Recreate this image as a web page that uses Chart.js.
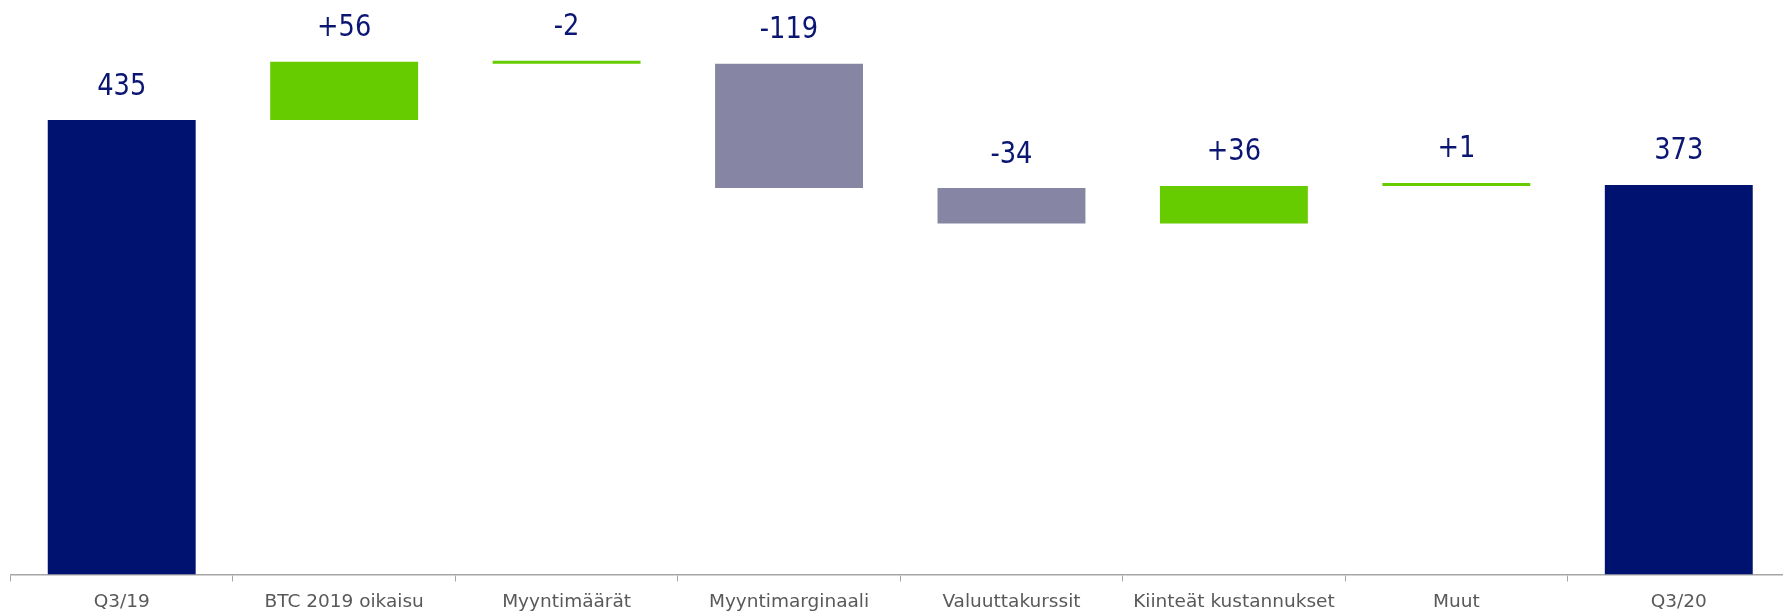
<!DOCTYPE html>
<html>
<head>
<meta charset="utf-8">
<script src="https://cdn.jsdelivr.net/npm/chart.js@4.4.1/dist/chart.umd.min.js"></script>
<style>
    html, body { margin: 0; padding: 0; background: #fff; overflow: hidden; }
    #wrap { width: 1790px; height: 622px; }
</style>
</head>
<body>
<div id="wrap"><canvas id="chart"></canvas></div>
<script>
// Waterfall data
const categories = ["Q3/19", "BTC 2019 oikaisu", "Myyntimäärät", "Myyntimarginaali",
    "Valuuttakurssit", "Kiinteät kustannukset", "Muut", "Q3/20"];
const values = [435, 56, -2, -119, -34, 36, 1, 373];
const kinds = ["total", "step", "step", "step", "step", "step", "step", "total"];
const labels = ["435", "+56", "-2", "-119", "-34", "+36", "+1", "373"];

// colours
const NAVY = "#001270";
const GREEN = "#66cc00";
const GREY = "#8686a4";
const barColors = [NAVY, GREEN, GREEN, GREY, GREY, GREEN, GREEN, NAVY];

const FONT = "'DejaVu Sans', Verdana, sans-serif";

// build floating bars [start, end]
let running = 0;
const ranges = values.map((v, i) => {
    if (kinds[i] === "total") {
        running = v;
        return [0, v];
    }
    const start = running;
    running += v;
    return [start, running];
});

// labels above each bar (squeezed a bit, the original font is narrow)
const topLabels = {
    id: "topLabels",
    afterDatasetsDraw(chart) {
        const ctx = chart.ctx;
        const meta = chart.getDatasetMeta(0);
        ctx.save();
        ctx.font = "31px " + FONT;
        ctx.fillStyle = "#0b1672";
        ctx.textAlign = "center";
        ctx.textBaseline = "alphabetic";
        meta.data.forEach((bar, i) => {
            const top = Math.min(bar.y, bar.base);
            ctx.save();
            ctx.translate(bar.x, top - 25.5);
            ctx.scale(0.83, 1);
            ctx.fillText(labels[i], 0, 0);
            ctx.restore();
        });
        ctx.restore();
    }
};

new Chart(document.getElementById("chart"), {
    type: "bar",
    data: {
        labels: categories,
        datasets: [{
            data: ranges,
            backgroundColor: barColors,
            borderWidth: 0,
            categoryPercentage: 1,
            barPercentage: 0.665,
            minBarLength: 3
        }]
    },
    options: {
        responsive: true,
        maintainAspectRatio: false,
        animation: false,
        layout: { padding: { left: 10.5, right: 0, top: 0, bottom: 0 } },
        plugins: {
            legend: { display: false },
            tooltip: { enabled: false }
        },
        scales: {
            x: {
                grid: {
                    offset: true,
                    drawOnChartArea: false,
                    drawTicks: true,
                    tickLength: 7,
                    color: "#a6a6a6"
                },
                border: { color: "#a6a6a6", width: 1.5 },
                ticks: {
                    color: "#595959",
                    font: { family: FONT, size: 18.5, lineHeight: 1 },
                    padding: 11,
                    maxRotation: 0,
                    autoSkip: false
                }
            },
            y: {
                display: false,
                min: 0,
                max: 550
            }
        }
    },
    plugins: [topLabels]
});
</script>
</body>
</html>
